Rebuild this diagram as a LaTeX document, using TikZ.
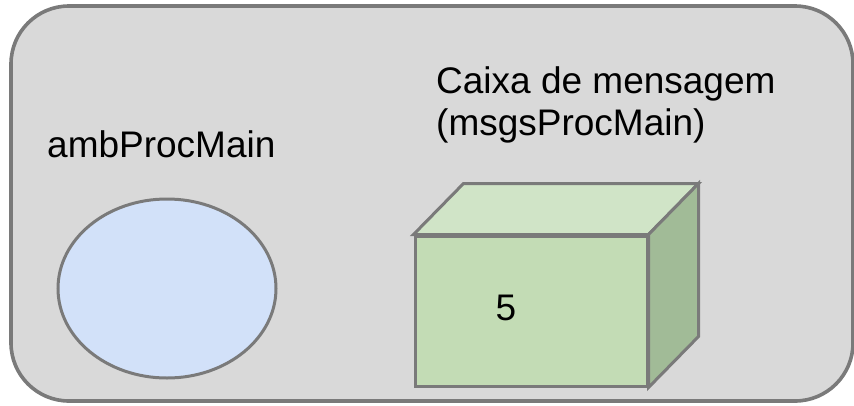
\documentclass[tikz,border=0pt]{standalone}
\usepackage{fontspec}
\setmainfont{Liberation Sans}
\usetikzlibrary{shapes.geometric}

\definecolor{panelfill}{HTML}{D9D9D9}
\definecolor{edgegray}{HTML}{7A7A7A}
\definecolor{envfill}{HTML}{D2E1F9}
\definecolor{boxfront}{HTML}{C3DCB5}
\definecolor{boxtop}{HTML}{D0E4C7}
\definecolor{boxside}{HTML}{A1BB97}

\tikzset{
  outline/.style={draw=edgegray, line width=3.2pt, line join=miter},
  label text/.style={inner sep=0pt, anchor=base west, text=black,
    font=\fontsize{37}{42}\selectfont},
}

\begin{document}
\begin{tikzpicture}[x=1pt, y=-1pt]
  \useasboundingbox (0,0) rectangle (854,405);

  % process panel
  \node[outline, fill=panelfill, rounded corners=58pt, minimum width=842pt,
        minimum height=395pt, inner sep=0pt, line width=3.6pt] (panel) at (432,203.5) {};

  % environment of the main process
  \node[label text] (envlabel) at (47,157) {ambProcMain};
  \node[ellipse, outline, fill=envfill, minimum width=218pt, minimum height=179pt,
        inner sep=0pt, line width=3pt] (env) at (167,288.5) {};

  % mailbox label (base anchor sits on the last line)
  \node[label text, align=left] (boxlabel) at (436,135)
    {Caixa de mensagem\\(msgsProcMain)};

  % mailbox drawn as a cube
  \node[outline, fill=boxfront, minimum width=232pt, minimum height=150pt, inner sep=0pt,
        line width=3pt] (front) at (531,311) {};
  \coordinate (backnw) at ([shift={(50,-51)}]front.north west);
  \coordinate (backne) at ([shift={(50,-51)}]front.north east);
  \coordinate (backse) at ([shift={(50,-51)}]front.south east);
  \draw[outline, fill=boxtop, line width=3pt] (front.north west) -- (backnw) -- (backne)
    -- (front.north east) -- cycle;
  \draw[outline, fill=boxside, line width=3pt] (front.north east) -- (backne) -- (backse)
    -- (front.south east) -- cycle;
  \node[inner sep=0pt, font=\fontsize{37}{40}\selectfont] (count) at (506,308) {5};
\end{tikzpicture}
\end{document}
